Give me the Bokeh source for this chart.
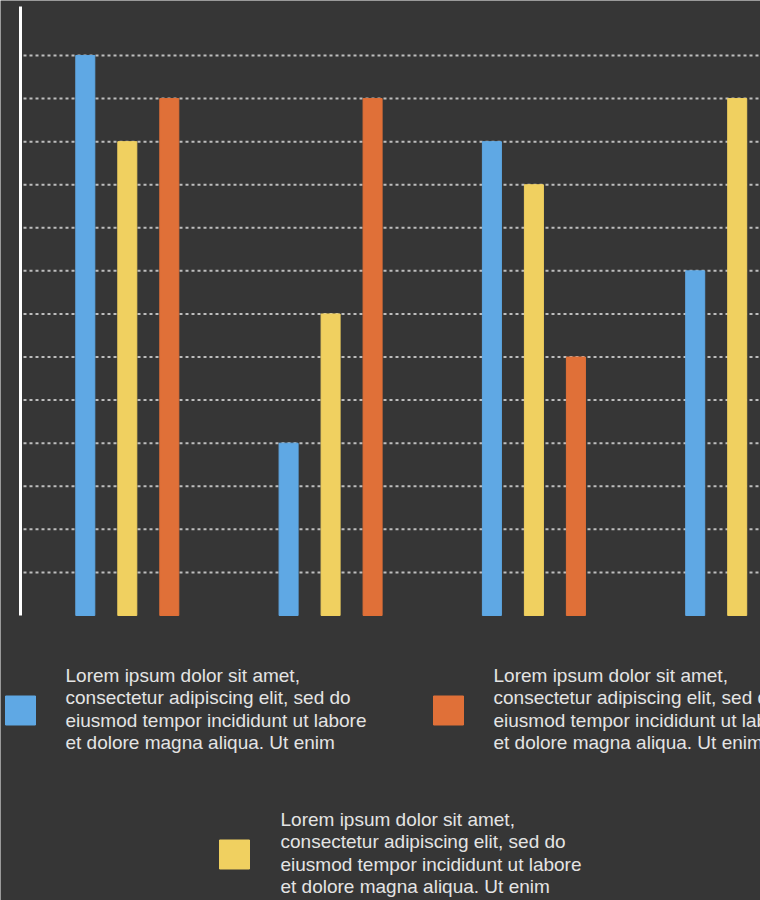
from bokeh.plotting import figure
from bokeh.models import Range1d
from bokeh.core.properties import value
from bokeh.embed import file_html
from bokeh.resources import INLINE

# ---- data ----
groups = ["Group 1", "Group 2", "Group 3", "Group 4"]
blue_values = [13, 4, 11, 8]
yellow_values = [11, 7, 10, 12]
orange_values = [12, 12, 6]          # the 4th group's orange bar lies outside the visible area
grid_ticks = list(range(1, 14))
legend_lines = ["Lorem ipsum dolor sit amet,",
                "consectetur adipiscing elit, sed do",
                "eiusmod tempor incididunt ut labore",
                "et dolore magna aliqua. Ut enim"]

BG = "#363636"
BLUE, ORANGE, YELLOW = "#5FA8E4", "#E07038", "#F0D060"
legend_colors = [BLUE, ORANGE, YELLOW]

W, H = 760, 900

p = figure(width=W, height=H, output_backend="svg", toolbar_location=None,
           x_range=Range1d(-0.6237, 3.1146), y_range=Range1d(-6.616, 14.276),
           min_border_left=0, min_border_right=0, min_border_top=0, min_border_bottom=0,
           background_fill_color=BG, border_fill_color=BG, outline_line_color=None,
           x_axis_location=None, y_axis_location=None)
p.grid.visible = False
# pixel-like coordinate system for the decorations and the legend
p.extra_x_ranges = {"px": Range1d(0, W)}
p.extra_y_ranges = {"px": Range1d(H, 0)}

# dotted horizontal grid lines at the value ticks
p.segment(x0=[23] * len(grid_ticks), x1=[W] * len(grid_ticks), y0=grid_ticks, y1=grid_ticks,
          x_range_name="px", line_color="#BDBDBD", line_width=2, line_dash="3 3")

# bars
idx = list(range(len(groups)))
off = 0.2066
bw = 0.0935
p.vbar(x=[i - off for i in idx], top=blue_values, width=bw, bottom=0, color=BLUE)
p.vbar(x=[i for i in idx], top=yellow_values, width=bw, bottom=0, color=YELLOW)
p.vbar(x=[i + off for i in idx[:len(orange_values)]], top=orange_values, width=bw, bottom=0,
       color=ORANGE)

# white vertical axis line
p.segment(x0=[20], x1=[20], y0=[6], y1=[615], x_range_name="px", y_range_name="px",
          line_color="#FFFFFF", line_width=3)

# legend blocks
sq_x = [20, 448, 234]
sq_y = [710, 710, 854]
txt_x = [65, 493, 280]
txt_y0 = [675, 675, 819]
p.rect(x=sq_x, y=sq_y, width=30, height=29, color=legend_colors,
       x_range_name="px", y_range_name="px")

tx, ty, tt = [], [], []
for k in range(3):
    for j, line in enumerate(legend_lines):
        tx.append(txt_x[k])
        ty.append(txt_y0[k] + j * 22.3)
        tt.append(line)
p.text(x=tx, y=ty, text=tt, text_font=value("Liberation Sans"), text_font_size="19px",
       text_color="#E4E4E4", text_baseline="alphabetic", text_align="left",
       x_range_name="px", y_range_name="px")

open("out.html", "w").write(file_html(p, INLINE))
